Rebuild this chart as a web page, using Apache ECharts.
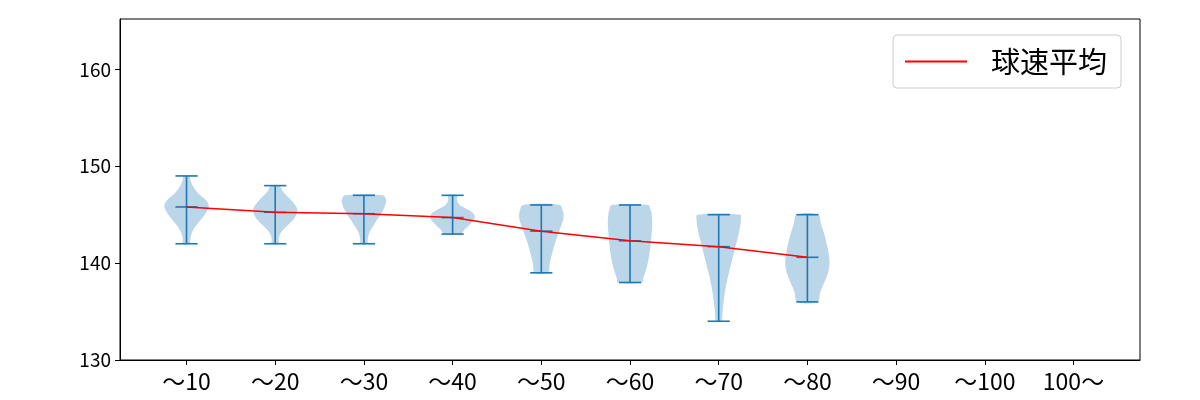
<!DOCTYPE html>
<html>
<head>
<meta charset="utf-8">
<script src="https://cdn.jsdelivr.net/npm/echarts@6/dist/echarts.min.js"></script>
<style>html,body{margin:0;padding:0;background:#fff;}#c{width:1200px;height:400px;}</style>
</head>
<body>
<div id="c"></div>
<script>
const categories = ['～10', '～20', '～30', '～40', '～50', '～60', '～70', '～80', '～90', '～100', '100～'];
const yTicks = [130, 140, 150, 160];
const means = [145.8, 145.25, 145.1, 144.7, 143.3, 142.3, 141.7, 140.6];
const mins = [142, 142, 142, 143, 139, 138, 134, 136];
const maxs = [149, 148, 147, 147, 146, 146, 145, 145];
// violin profiles: [value, relative half-width]
const shape1 = [[142, 0.15], [142.5, 0.17], [143, 0.22], [143.5, 0.32], [144, 0.47], [144.5, 0.65], [145, 0.82], [145.5, 0.95], [146, 1.0], [146.5, 0.88], [147, 0.62], [147.5, 0.42], [148, 0.28], [148.5, 0.18], [149, 0.13]];
const shape2 = [[142, 0.15], [142.5, 0.16], [143, 0.22], [143.5, 0.38], [144, 0.6], [144.5, 0.82], [145, 0.95], [145.5, 1.0], [146, 0.9], [146.5, 0.72], [147, 0.5], [147.5, 0.32], [148, 0.2]];
const shape3 = [[142, 0.15], [142.5, 0.17], [143, 0.22], [143.5, 0.32], [144, 0.46], [144.5, 0.6], [145, 0.75], [145.5, 0.87], [146, 0.96], [146.5, 1.0], [147, 0.85]];
const shape4 = [[143, 0.38], [143.5, 0.55], [144, 0.78], [144.5, 0.97], [144.9, 1.0], [145.3, 0.85], [145.7, 0.55], [146, 0.32], [146.5, 0.2], [147, 0.2]];
const shape5 = [[139, 0.3], [140, 0.38], [141, 0.49], [142, 0.61], [143, 0.76], [144, 0.92], [144.7, 1.0], [145.3, 0.98], [146, 0.82]];
const shape6 = [[138, 0.55], [138.5, 0.6], [139, 0.68], [140, 0.8], [141, 0.88], [142, 0.93], [143, 0.97], [144, 1.0], [145, 0.98], [145.5, 0.93], [146, 0.82]];
const shape7 = [[134, 0.12], [135, 0.17], [136, 0.22], [137, 0.28], [138, 0.36], [139, 0.46], [140, 0.57], [141, 0.68], [142, 0.79], [143, 0.9], [144, 0.98], [144.5, 1.0], [145, 0.96]];
const shape8 = [[136, 0.45], [137, 0.58], [138, 0.76], [139, 0.93], [140, 1.0], [141, 0.96], [142, 0.87], [143, 0.76], [144, 0.62], [145, 0.48]];
const shapes = [shape1, shape2, shape3, shape4, shape5, shape6, shape7, shape8];

const FONT = '"Noto Sans CJK JP", "Noto Sans", sans-serif';
const BLUE = '#1f77b4';
const HALF = 0.25;
const CAP = 0.125;

const chart = echarts.init(document.getElementById('c'), null, {renderer: 'canvas'});

const violinData = shapes.map((s, i) => [i + 1, mins[i], maxs[i], means[i]]);
const meanLine = means.map((m, i) => [i + 1, m]);

function renderViolin(params, api) {
  const idx = params.dataIndex;
  const x = api.value(0);
  const lo = api.value(1), hi = api.value(2), mean = api.value(3);
  const s = shapes[idx];
  const left = [], right = [];
  for (let k = 0; k < s.length; k++) {
    left.push(api.coord([x - s[k][1] * HALF, s[k][0]]));
  }
  for (let k = s.length - 1; k >= 0; k--) {
    right.push(api.coord([x + s[k][1] * HALF, s[k][0]]));
  }
  const pts = left.concat(right);
  const lineStyle = {stroke: BLUE, lineWidth: 1.6};
  const seg = (a, b) => {
    const p1 = api.coord(a), p2 = api.coord(b);
    return {type: 'line', shape: {x1: p1[0], y1: p1[1], x2: p2[0], y2: p2[1]}, style: lineStyle};
  };
  return {
    type: 'group',
    children: [
      {type: 'polygon', shape: {points: pts, smooth: 0.35}, style: {fill: 'rgba(31,119,180,0.3)', stroke: 'none'}},
      seg([x, lo], [x, hi]),
      seg([x - CAP, lo], [x + CAP, lo]),
      seg([x - CAP, hi], [x + CAP, hi]),
      seg([x - CAP, mean], [x + CAP, mean])
    ]
  };
}

const option = {
  animation: false,
  backgroundColor: '#fff',
  grid: {left: 120, right: 60, top: 19, bottom: 40, show: true, borderColor: '#000', borderWidth: 1, backgroundColor: 'transparent'},
  legend: {
    show: true,
    left: 893, top: 35,
    padding: [11, 14, 11, 12],
    backgroundColor: '#fff',
    borderColor: '#cccccc', borderWidth: 1, borderRadius: 4,
    itemWidth: 62, itemHeight: 2,
    icon: 'rect',
    data: [{name: '球速平均', icon: 'rect'}],
    textStyle: {fontFamily: FONT, fontSize: 29, lineHeight: 31, color: '#000', padding: [0, 0, 0, 19]}
  },
  xAxis: {
    type: 'value', min: 0.25, max: 11.75,
    splitLine: {show: false},
    axisLine: {show: true, lineStyle: {color: '#000', width: 1}},
    axisTick: {show: true, length: 5, lineStyle: {color: '#000'}, customValues: categories.map((c, i) => i + 1)},
    axisLabel: {
      customValues: categories.map((c, i) => i + 1),
      formatter: v => categories[Math.round(v) - 1] || '',
      fontFamily: FONT, fontSize: 23, color: '#000', margin: 10
    }
  },
  yAxis: {
    type: 'value', min: 130, max: 165.2,
    splitLine: {show: false},
    axisLine: {show: true, lineStyle: {color: '#000', width: 1}},
    axisTick: {show: true, length: 5, lineStyle: {color: '#000'}, customValues: yTicks},
    axisLabel: {customValues: yTicks, fontFamily: FONT, fontSize: 19, color: '#000', margin: 9}
  },
  series: [
    {
      type: 'custom', name: 'violin', renderItem: renderViolin,
      data: violinData, z: 2, silent: true,
      encode: {x: 0, y: [1, 2, 3]}
    },
    {
      type: 'line', name: '球速平均', data: meanLine,
      symbol: 'none', showSymbol: false,
      lineStyle: {color: '#ff0000', width: 1.5},
      itemStyle: {color: '#ff0000'},
      z: 5, silent: true
    }
  ]
};
chart.setOption(option);
</script>
</body>
</html>
